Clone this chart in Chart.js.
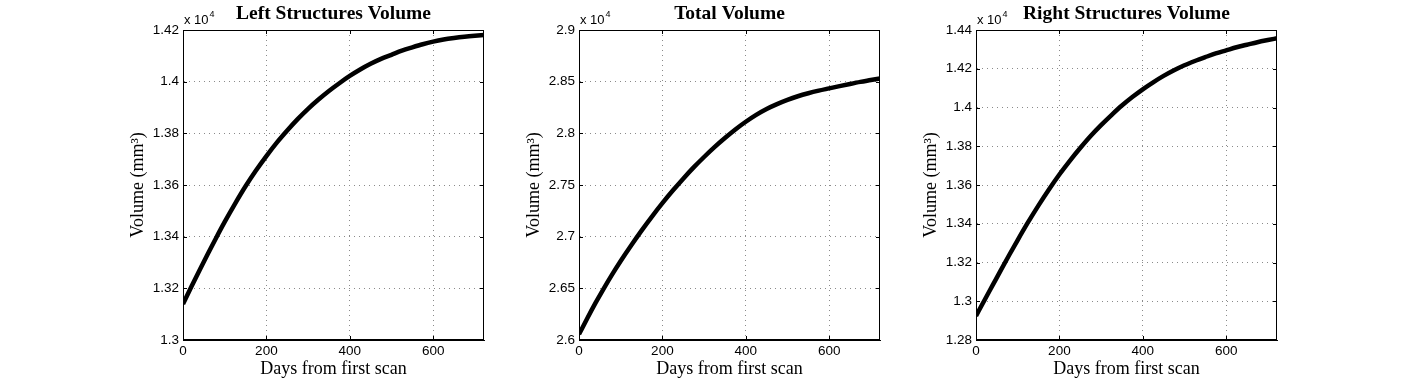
<!DOCTYPE html>
<html>
<head>
<meta charset="utf-8">
<script src="https://cdn.jsdelivr.net/npm/chart.js@4.4.1/dist/chart.umd.min.js"></script>
<style>
html,body{margin:0;padding:0;background:#fff;width:1410px;height:383px;overflow:hidden;}
canvas.panel{position:absolute;top:0;}
</style>
</head>
<body>
<canvas id="c0" class="panel" width="401" height="383"></canvas>
<canvas id="c1" class="panel" width="401" height="383"></canvas>
<canvas id="c2" class="panel" width="401" height="383"></canvas>
<script>
// ---- data (days from first scan, volumes in mm^3) ----
const days = [0,20,40,60,80,100,125,150,175,200,225,250,275,300,325,350,375,400,425,450,475,500,525,550,575,600,625,650,675,700,722];
const leftVolume = [13139,13206,13271,13335,13397,13457,13528,13595,13656,13712,13764,13811,13855,13895,13931,13964,13994,14022,14047,14069,14088,14104,14120,14133,14145,14155,14163,14169,14174,14178,14181];
const totalVolume = [26055,26211,26361,26503,26638,26765,26915,27059,27195,27324,27446,27561,27670,27771,27866,27954,28037,28112,28179,28236,28283,28324,28359,28388,28413,28435,28457,28478,28498,28516,28532];
const rightVolume = [12924,13004,13083,13162,13240,13316,13408,13495,13577,13654,13725,13791,13853,13909,13961,14010,14054,14094,14130,14163,14192,14218,14240,14260,14279,14295,14311,14324,14337,14348,14357];

const panelTitles = ['Left Structures Volume', 'Total Volume', 'Right Structures Volume'];
const yMins = [13000, 26000, 12800];
const yMaxs = [14200, 29000, 14400];
const ySteps = [200, 500, 200];
const xMin = 0, xMax = 722, xStep = 200;
const yAxisTitle = 'Volume (mm³)';
const xAxisTitle = 'Days from first scan';
const exponentBase = 'x 10', exponentPower = '4', exponentScale = 1e4;

// ---- layout ----
const plotLefts = [183, 579, 976];
const leftMargin = 90, rightMargin = 10;
const serif = '"Liberation Serif", "Times New Roman", serif';
const sans = '"Liberation Sans", Arial, Helvetica, sans-serif';

const framePlugin = {
  id: 'matlabFrame',
  afterDatasetsDraw(chart) {
    const {ctx, chartArea: a, scales} = chart;
    const x = scales.x, y = scales.y;
    const L = Math.round(a.left), R = Math.round(a.right), T = Math.round(a.top), B = Math.round(a.bottom);
    ctx.save();
    ctx.strokeStyle = '#000';
    ctx.lineWidth = 1;
    ctx.strokeRect(L + 0.5, T + 0.5, R - L - 1, B - T - 1);
    const tl = 4;
    ctx.beginPath();
    y.ticks.forEach(t => {
      const py = Math.round(y.getPixelForValue(t.value)) + 0.5;
      ctx.moveTo(L, py); ctx.lineTo(L + tl, py);
      ctx.moveTo(R, py); ctx.lineTo(R - tl, py);
    });
    x.ticks.forEach(t => {
      const px = Math.round(x.getPixelForValue(t.value)) + 0.5;
      ctx.moveTo(px, B); ctx.lineTo(px, B - tl);
      ctx.moveTo(px, T); ctx.lineTo(px, T + tl);
    });
    ctx.stroke();
    // exponent label
    ctx.fillStyle = '#000';
    ctx.textAlign = 'left';
    ctx.textBaseline = 'alphabetic';
    ctx.font = '13px ' + sans;
    ctx.fillText(exponentBase, L + 1, T - 6);
    const w = ctx.measureText(exponentBase).width;
    ctx.font = '9px ' + sans;
    ctx.fillText(exponentPower, L + 1 + w + 1, T - 13);
    ctx.restore();
  }
};

function makeChart(i, values) {
  const canvas = document.getElementById('c' + i);
  canvas.style.left = (plotLefts[i] - leftMargin) + 'px';
  return new Chart(canvas, {
    type: 'line',
    data: {
      datasets: [{
        data: days.map((d, k) => ({x: d, y: values[k]})),
        borderColor: '#000',
        borderWidth: 4.5,
        pointRadius: 0,
        fill: false,
        cubicInterpolationMode: 'monotone'
      }]
    },
    options: {
      responsive: false,
      animation: false,
      devicePixelRatio: 1,
      layout: {padding: {left: 0, right: rightMargin, top: 0, bottom: 0}},
      plugins: {
        legend: {display: false},
        tooltip: {enabled: false},
        title: {
          display: true,
          text: panelTitles[i],
          fullSize: false,
          color: '#000',
          font: {family: serif, size: 19.5, weight: 'bold', lineHeight: 1.2},
          padding: {top: 1.8, bottom: 4.8}
        }
      },
      scales: {
        x: {
          type: 'linear',
          min: xMin, max: xMax,
          afterFit(scale) { scale.height = 43; },
          ticks: {
            stepSize: xStep, includeBounds: false, maxRotation: 0,
            color: '#000', padding: 3,
            font: {family: sans, size: 13.5, lineHeight: 1.2}
          },
          grid: {color: '#8a8a8a', lineWidth: 1, drawTicks: false},
          border: {display: true, color: '#000', width: 1, dash: [1, 4]},
          title: {
            display: true, text: xAxisTitle, color: '#000',
            font: {family: serif, size: 18, lineHeight: 1.2},
            padding: {top: 0, bottom: 2.7}
          }
        },
        y: {
          type: 'linear',
          min: yMins[i], max: yMaxs[i],
          afterFit(scale) { scale.width = leftMargin; },
          ticks: {
            stepSize: ySteps[i], includeBounds: false,
            color: '#000', padding: 4,
            font: {family: sans, size: 13.5, lineHeight: 1.2},
            callback: v => String(+(v / exponentScale).toFixed(4))
          },
          grid: {color: '#8a8a8a', lineWidth: 1, drawTicks: false},
          border: {display: true, color: '#000', width: 1, dash: [1, 4]},
          title: {
            display: true, text: yAxisTitle, color: '#000',
            font: {family: serif, size: 18, lineHeight: 1.2},
            padding: {top: 34, bottom: 0}
          }
        }
      }
    },
    plugins: [framePlugin]
  });
}

makeChart(0, leftVolume);
makeChart(1, totalVolume);
makeChart(2, rightVolume);
</script>
</body>
</html>
